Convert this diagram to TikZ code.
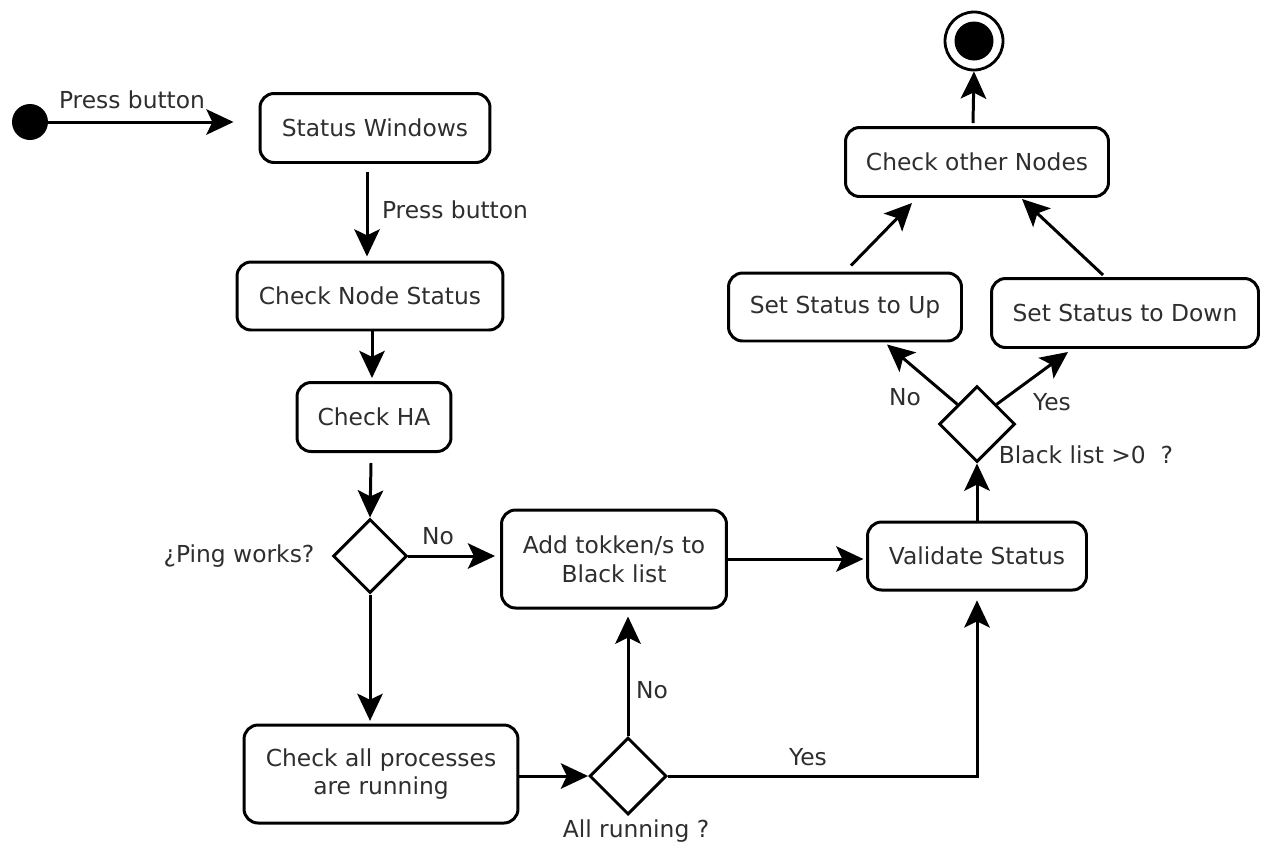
\documentclass[tikz,border=0pt]{standalone}
\usepackage{fontspec}
\setmainfont{DejaVu Sans}
\usetikzlibrary{arrows.meta,shapes.geometric,calc}
\begin{document}
\begin{tikzpicture}[x=0.02cm,y=-0.02cm,
  every node/.style={font=\fontsize{13.3pt}{16.3pt}\selectfont, text=black!82},
  act/.style={draw=black, line width=1.7pt, rounded corners=8pt, inner sep=0pt, align=center},
  choice/.style={draw=black, line width=1.7pt, diamond, aspect=1, minimum size=1.5cm, inner sep=0pt},
  flow/.style={line width=1.7pt, -{Stealth[length=15.5pt,width=14.5pt,inset=3.5pt]}},
  lbl/.style={inner sep=0pt}]
\useasboundingbox (0,0) rectangle (1263,846);

% activities and decisions
\node[circle, fill=black, minimum size=0.72cm, inner sep=0pt] (start) at (30,122) {};
\node[act, minimum width=4.6cm, minimum height=1.38cm] (sw) at (375,128) {Status Windows};
\node[act, minimum width=5.32cm, minimum height=1.36cm] (cns) at (370,296) {Check Node Status};
\node[act, minimum width=3.08cm, minimum height=1.38cm] (cha) at (374,417) {Check HA};
\node[choice, minimum size=1.48cm] (ping) at (370,556) {};
\node[act, minimum width=4.5cm, minimum height=1.96cm] (add) at (614,559) {Add tokken/s to\\Black list};
\node[act, minimum width=4.38cm, minimum height=1.36cm] (val) at (977,556) {Validate Status};
\node[act, minimum width=5.48cm, minimum height=1.96cm] (all) at (381,774) {Check all processes\\are running};
\node[choice, minimum size=1.54cm] (run) at (628,776) {};
\node[choice, minimum size=1.52cm] (black) at (977,424) {};
\node[act, minimum width=4.66cm, minimum height=1.36cm] (up) at (845,307) {Set Status to Up};
\node[act, minimum width=5.34cm, minimum height=1.38cm] (down) at (1125,313) {Set Status to Down};
\node[act, minimum width=5.26cm, minimum height=1.38cm] (other) at (977,162) {Check other Nodes};
\node[circle, draw=black, line width=1.6pt, minimum size=1.16cm, inner sep=0pt] (endring) at (974,41) {};
\node[circle, fill=black, minimum size=0.78cm, inner sep=0pt] (enddot) at (974,41) {};

% transitions
\draw[flow] (start.east) -- ($(sw.west)+(-25,-6)$);
\draw[flow] ($(sw.south)+(-8,8)$) -- ($(cns.north)+(-3,-4)$);
\draw[flow] ($(cns.south)+(2,0)$) -- ($(cha.north)+(-2,-3)$);
\draw[flow] ($(cha.south)+(-3,10)$) -- (ping.north);
\draw[flow] (ping.east) -- ($(add.west)+(-5,-3)$);
\draw[flow, shorten >=1.5pt] (add.east) -- (add.east -| val.west);
\draw[flow, shorten >=1.5pt] (ping.south) -- (ping.south |- all.north);
\draw[flow] (all.east |- run.west) -- (run.west);
\draw[flow, shorten >=4pt] (run.north) -- (run.north |- add.south);
\draw[flow, shorten >=5pt] (run.east) -| (val.south);
\draw[flow] (val.north) -- (black.south);
\draw[flow] (black.north west) -- ($(up.south)+(42,2)$);
\draw[flow] (black.north east) -- ($(down.south)+(-57,3)$);
\draw[flow] ($(up.north)+(6,-6)$) -- ($(other.south)+(-65,5)$);
\draw[flow] ($(down.north)+(-22,-2)$) -- ($(other.south)+(45,1)$);
\draw[flow] ($(other.north)+(-4,-3)$) -- (endring.south);

% transition labels
\node[lbl] (lpress1) at (132,100) {Press button};
\node[lbl] (lpress2) at (455,210) {Press button};
\node[lbl] (lping) at (239,556) {¿Ping works?};
\node[lbl] (lno1) at (438,536) {No};
\node[lbl] (lno2) at (652,690) {No};
\node[lbl] (lyes1) at (808,757) {Yes};
\node[lbl] (lrun) at (636,831) {All running ?};
\node[lbl] (lblack) at (1086,455) {Black list >0\ \ ?};
\node[lbl] (lno3) at (905,397) {No};
\node[lbl] (lyes2) at (1052,402) {Yes};
\end{tikzpicture}
\end{document}
